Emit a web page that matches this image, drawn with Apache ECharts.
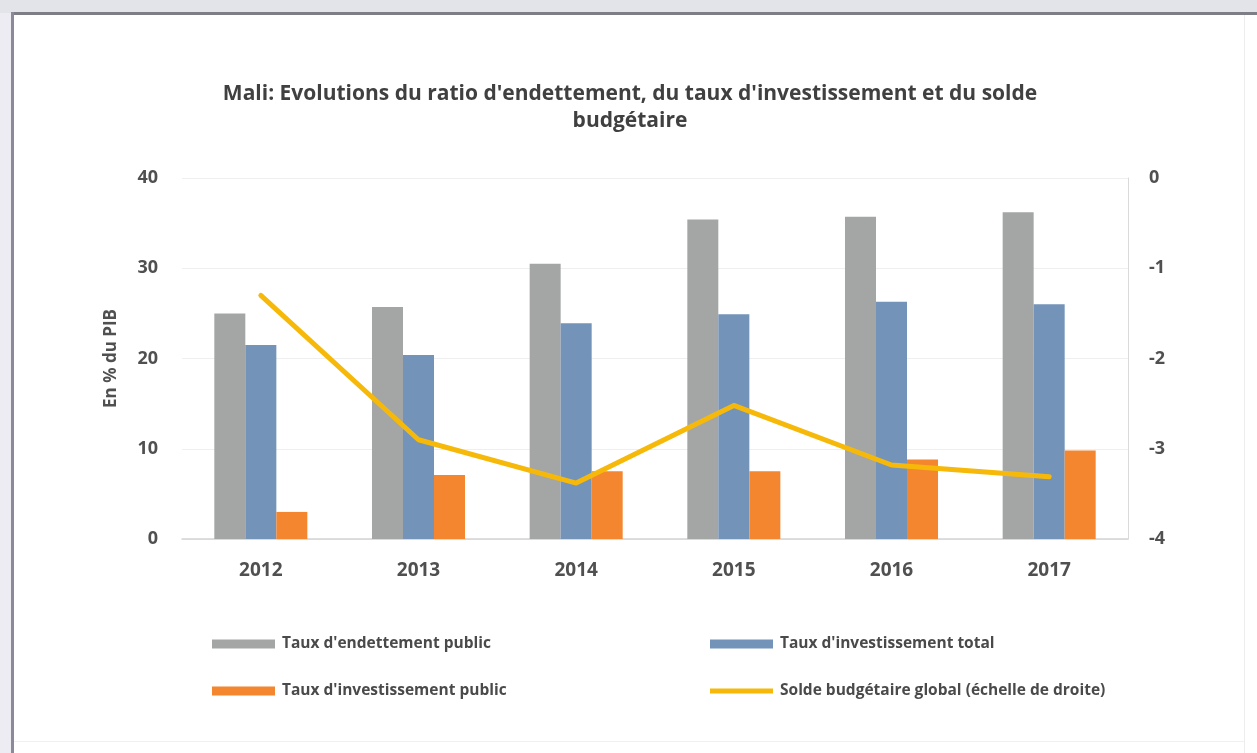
<!DOCTYPE html>
<html>
<head>
<meta charset="utf-8">
<script src="https://cdn.jsdelivr.net/npm/echarts@6/dist/echarts.min.js"></script>
<style>
  html, body { margin: 0; padding: 0; background: #ffffff; }
  #chart { width: 1257px; height: 753px; }
</style>
</head>
<body>
<div id="chart"></div>
<script>
// Years on the category axis
const years = ['2012', '2013', '2014', '2015', '2016', '2017'];

// Left axis series, in % of GDP
const endettementPublic = [25.0, 25.7, 30.5, 35.4, 35.7, 36.2];
const investissementTotal = [21.5, 20.4, 23.9, 24.9, 26.3, 26.0];
const investissementPublic = [3.0, 7.1, 7.5, 7.5, 8.8, 9.8];

// Right axis series: overall budget balance, in % of GDP
const soldeBudgetaire = [-1.3, -2.9, -3.38, -2.52, -3.18, -3.31];

// Series names
const names = [
  "Taux d'endettement public",
  "Taux d'investissement total",
  "Taux d'investissement public",
  "Solde budgétaire global (échelle de droite)"
];

const FONT = '"Open Sans", Lato, sans-serif';
const colors = ['#a4a6a6', '#7393b9', '#f4862f', '#f6b90a'];

const chart = echarts.init(document.getElementById('chart'), null, { renderer: 'canvas' });

function legendAt(name, left, top, icon, h) {
  return {
    data: [{ name: name, icon: icon }],
    left: left, top: top, padding: 0,
    itemWidth: 63, itemHeight: h, itemGap: 0,
    textStyle: { fontFamily: FONT, fontSize: 15.5, fontWeight: 'bold', color: '#4a4a4a', padding: [0, 0, 0, 2] }
  };
}

chart.setOption({
  backgroundColor: '#ffffff',
  animation: false,
  color: colors,
  graphic: [
    // window frame round the chart
    { type: 'rect', shape: { x: 0, y: 0, width: 1257, height: 13 }, style: { fill: '#e3e3ea' }, silent: true },
    { type: 'rect', shape: { x: 12, y: 12, width: 1245, height: 3 }, style: { fill: '#7e7e86' }, silent: true },
    { type: 'rect', shape: { x: 0, y: 13, width: 11, height: 740 }, style: { fill: '#ececf2' }, silent: true },
    { type: 'rect', shape: { x: 11, y: 12, width: 3, height: 741 }, style: { fill: '#8a8a9c' }, silent: true },
    { type: 'rect', shape: { x: 1244, y: 15, width: 1, height: 738 }, style: { fill: '#ededed' }, silent: true },
    { type: 'rect', shape: { x: 14, y: 741, width: 1230, height: 1 }, style: { fill: '#f0f0f0' }, silent: true }
  ],
  title: {
    text: "Mali: Evolutions du ratio d'endettement, du taux d'investissement et du solde\nbudgétaire",
    left: 625, top: 76, textAlign: 'center',
    textStyle: { fontFamily: FONT, fontSize: 21, fontWeight: 'bold', color: '#404040', lineHeight: 27 }
  },
  legend: [
    legendAt(names[0], 212, 636, 'rect', 9),
    legendAt(names[1], 710, 636, 'rect', 9),
    legendAt(names[2], 212, 683, 'rect', 9),
    legendAt(names[3], 710, 683, 'rect', 5)
  ],
  grid: { left: 182, right: 129, top: 178, bottom: 214 },
  xAxis: {
    type: 'category',
    data: years,
    axisTick: { show: false },
    axisLine: { lineStyle: { color: '#d4d4d4', width: 1.5 } },
    axisLabel: { fontFamily: FONT, fontSize: 19, fontWeight: 'bold', color: '#505050', margin: 22 }
  },
  yAxis: [
    {
      type: 'value', min: 0, max: 40, interval: 10,
      name: 'En % du PIB', nameLocation: 'middle', nameRotate: 90, nameGap: 62,
      nameTextStyle: { fontFamily: FONT, fontSize: 17, fontWeight: 'bold', color: '#505050' },
      axisLine: { show: false },
      axisTick: { show: false },
      axisLabel: { fontFamily: FONT, fontSize: 18, fontWeight: 'bold', color: '#505050', margin: 24 },
      splitLine: { lineStyle: { color: '#efefef', width: 1 } }
    },
    {
      type: 'value', min: -4, max: 0, interval: 1,
      position: 'right',
      axisLine: { show: true, lineStyle: { color: '#dadada' } },
      axisTick: { show: false },
      axisLabel: { fontFamily: FONT, fontSize: 18, fontWeight: 'bold', color: '#505050', margin: 21 },
      splitLine: { show: false }
    }
  ],
  series: [
    { name: names[0], type: 'bar', data: endettementPublic, barGap: '0%', barCategoryGap: '41%', yAxisIndex: 0 },
    { name: names[1], type: 'bar', data: investissementTotal, yAxisIndex: 0 },
    { name: names[2], type: 'bar', data: investissementPublic, yAxisIndex: 0 },
    {
      name: names[3], type: 'line', data: soldeBudgetaire, yAxisIndex: 1,
      symbol: 'none', lineStyle: { width: 5, color: colors[3], join: 'round', cap: 'round' },
      z: 5
    }
  ]
});
</script>
</body>
</html>
